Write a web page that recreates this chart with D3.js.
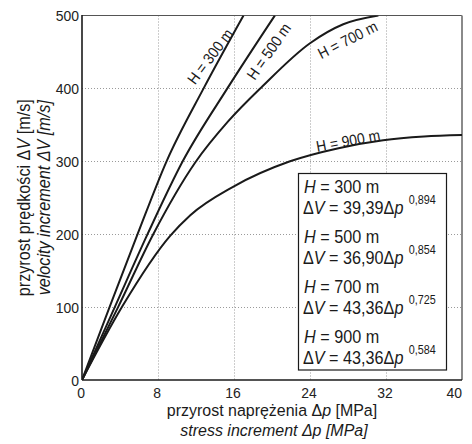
<!DOCTYPE html>
<html><head><meta charset="utf-8">
<script src="https://cdn.jsdelivr.net/npm/d3@7"></script>
<style>
html,body{margin:0;padding:0;background:#fff;}
svg{display:block;font-family:"Liberation Sans",Arial,sans-serif;}
</style></head>
<body>
<svg id="chart" width="472" height="444"></svg>
<script>
// ---- data ----
const xTicks = [0, 8, 16, 24, 32, 40];
const yTicks = [0, 100, 200, 300, 400, 500];

const depthLabels = ["H = 300 m", "H = 500 m", "H = 700 m", "H = 900 m"];
const depthValues = [300, 500, 700, 900];

const dp300 = [0, 2.9, 5.85, 8.9, 12.8, 17.0];
const dv300 = [0, 100, 200, 300, 400, 500];

const dp500 = [0, 3.45, 6.9, 10.6, 15.3, 20.3];
const dv500 = [0, 100, 200, 300, 400, 500];

const dp700 = [0, 3.8, 7.5, 11.9, 15.4, 19.0, 24.0, 27.5, 31.2];
const dv700 = [0, 100, 200, 298, 355, 403, 462, 488, 500];

const dp900 = [0, 4.2, 9.3, 11.4, 15.9, 21.9, 27.0, 31.7, 36.0, 40.0];
const dv900 = [0, 100, 198, 226, 265, 300, 318, 329, 334, 336];

const coefA = ["39,39", "36,90", "43,36", "43,36"];
const expB = ["0,894", "0,854", "0,725", "0,584"];

// ---- layout ----
const svg = d3.select("#chart");
const SX = 0.9; // horizontal squeeze to imitate the condensed face
const X0 = 82, X1 = 462, Y0 = 380, Y1 = 15.5;
const x = d3.scaleLinear().domain([0, 40]).range([X0, X1]);
const y = d3.scaleLinear().domain([0, 500]).range([Y0, Y1]);
const INK = "#1a1a1a";

// grid
const grid = svg.append("g").attr("stroke", "#9a9a9a").attr("stroke-width", 1)
  .attr("stroke-dasharray", "1,2");
grid.selectAll("line.v").data(xTicks.slice(1, -1)).join("line")
  .attr("x1", d => Math.round(x(d)) + 0.5).attr("x2", d => Math.round(x(d)) + 0.5)
  .attr("y1", Y1).attr("y2", Y0);
grid.selectAll("line.h").data(yTicks.slice(1, -1)).join("line")
  .attr("y1", d => Math.round(y(d)) + 0.5).attr("y2", d => Math.round(y(d)) + 0.5)
  .attr("x1", X0).attr("x2", X1);

// frame
svg.append("line").attr("x1", X0).attr("x2", X1).attr("y1", Y1).attr("y2", Y1)
  .attr("stroke", "#555").attr("stroke-width", 1.2);
svg.append("line").attr("x1", X1).attr("x2", X1).attr("y1", Y1).attr("y2", Y0)
  .attr("stroke", "#8a8a8a").attr("stroke-width", 2);

// clip
svg.append("clipPath").attr("id", "clip").append("rect")
  .attr("x", X0).attr("y", Y1).attr("width", X1 - X0).attr("height", Y0 - Y1);

const series = [
  {p: dp300, v: dv300}, {p: dp500, v: dv500}, {p: dp700, v: dv700}, {p: dp900, v: dv900}
];
const line = d3.line().x(d => x(d[0])).y(d => y(d[1])).curve(d3.curveMonotoneX);
svg.append("g").attr("clip-path", "url(#clip)")
  .selectAll("path").data(series).join("path")
  .attr("d", s => line(s.p.map((p, i) => [p, s.v[i]])))
  .attr("fill", "none").attr("stroke", INK).attr("stroke-width", 2);

// curve labels (placement in data units, pixel nudge, angle in degrees)
const labelPlace = [
  {p: 13.8, v: 441, dx: -3, dy: -2, a: -53},
  {p: 19.45, v: 452, dx: 2, dy: 1, a: -55},
  {p: 27.95, v: 468, dx: 0, dy: 1, a: -27},
  {p: 28.0, v: 324, dx: 0, dy: -3, a: -10.5}
];
svg.append("g").selectAll("text").data(depthLabels).join("text")
  .attr("transform", (d, i) => `translate(${x(labelPlace[i].p) + labelPlace[i].dx},${y(labelPlace[i].v) + labelPlace[i].dy}) rotate(${labelPlace[i].a}) scale(${SX},1)`)
  .attr("text-anchor", "middle").attr("dy", "0.35em")
  .attr("font-size", 15.5).attr("fill", INK)
  .text(d => d);

// axes lines
svg.append("line").attr("x1", X0).attr("x2", X0).attr("y1", Y1 - 0.5).attr("y2", Y0)
  .attr("stroke", INK).attr("stroke-width", 1.6);
svg.append("line").attr("x1", X0).attr("x2", X1).attr("y1", Y0).attr("y2", Y0)
  .attr("stroke", INK).attr("stroke-width", 1.6);

// tick labels
svg.append("g").selectAll("text").data(xTicks).join("text")
  .attr("transform", d => `translate(${d === 40 ? x(d) : x(d) - 1},397.5) scale(${SX},1)`)
  .attr("text-anchor", d => d === 40 ? "end" : "middle")
  .attr("font-size", 15.5).attr("fill", "#222").text(d => d);
svg.append("g").selectAll("text").data(yTicks).join("text")
  .attr("transform", d => `translate(79,${y(d)}) scale(${SX},1)`).attr("dy", "0.36em")
  .attr("text-anchor", "end")
  .attr("font-size", 15.5).attr("fill", "#222").text(d => d);

// legend box
const lg = svg.append("g");
lg.append("rect").attr("x", 298.5).attr("y", 173.5).attr("width", 148).attr("height", 196.5)
  .attr("fill", "#fff").attr("stroke", INK).attr("stroke-width", 1.2);
depthValues.forEach((h, i) => {
  const by = 192.5 + i * 50;
  const t1 = lg.append("text").attr("transform", `translate(304,${by}) scale(${SX},1)`)
    .attr("font-size", 18).attr("fill", INK);
  t1.append("tspan").attr("font-style", "italic").text("H");
  t1.append("tspan").text(" = " + h + " m");
  const t2 = lg.append("text").attr("transform", `translate(303,${by + 21}) scale(${SX},1)`)
    .attr("font-size", 18).attr("fill", INK);
  t2.append("tspan").text("Δ");
  t2.append("tspan").attr("font-style", "italic").text("V");
  t2.append("tspan").text(" = " + coefA[i] + "Δ");
  t2.append("tspan").attr("font-style", "italic").text("p");
  t2.append("tspan").attr("font-size", 12).attr("dx", 6).attr("dy", -10).text(expB[i]);
});

// axis titles
const xt = svg.append("g").attr("fill", INK).attr("font-size", 17).attr("text-anchor", "middle");
const xt1 = xt.append("text").attr("transform", `translate(${(X0 + X1) / 2},416) scale(0.94,1)`);
xt1.append("tspan").text("przyrost naprężenia Δ");
xt1.append("tspan").attr("font-style", "italic").text("p");
xt1.append("tspan").text(" [MPa]");
xt.append("text").attr("transform", `translate(${(X0 + X1) / 2 + 2},435.5) scale(0.94,1)`)
  .attr("font-style", "italic")
  .text("stress increment Δp [MPa]");

const yt = svg.append("g").attr("fill", INK).attr("font-size", 18).attr("text-anchor", "middle");
const cy = (Y0 + Y1) / 2;
const yt1 = yt.append("text").attr("transform", `translate(30,${cy}) rotate(-90) scale(${SX},1)`);
yt1.append("tspan").text("przyrost prędkości Δ");
yt1.append("tspan").attr("font-style", "italic").text("V");
yt1.append("tspan").text(" [m/s]");
yt.append("text").attr("transform", `translate(49.5,${cy}) rotate(-90) scale(${SX},1)`)
  .attr("font-style", "italic")
  .text("velocity increment ΔV [m/s]");
</script>
</body></html>
